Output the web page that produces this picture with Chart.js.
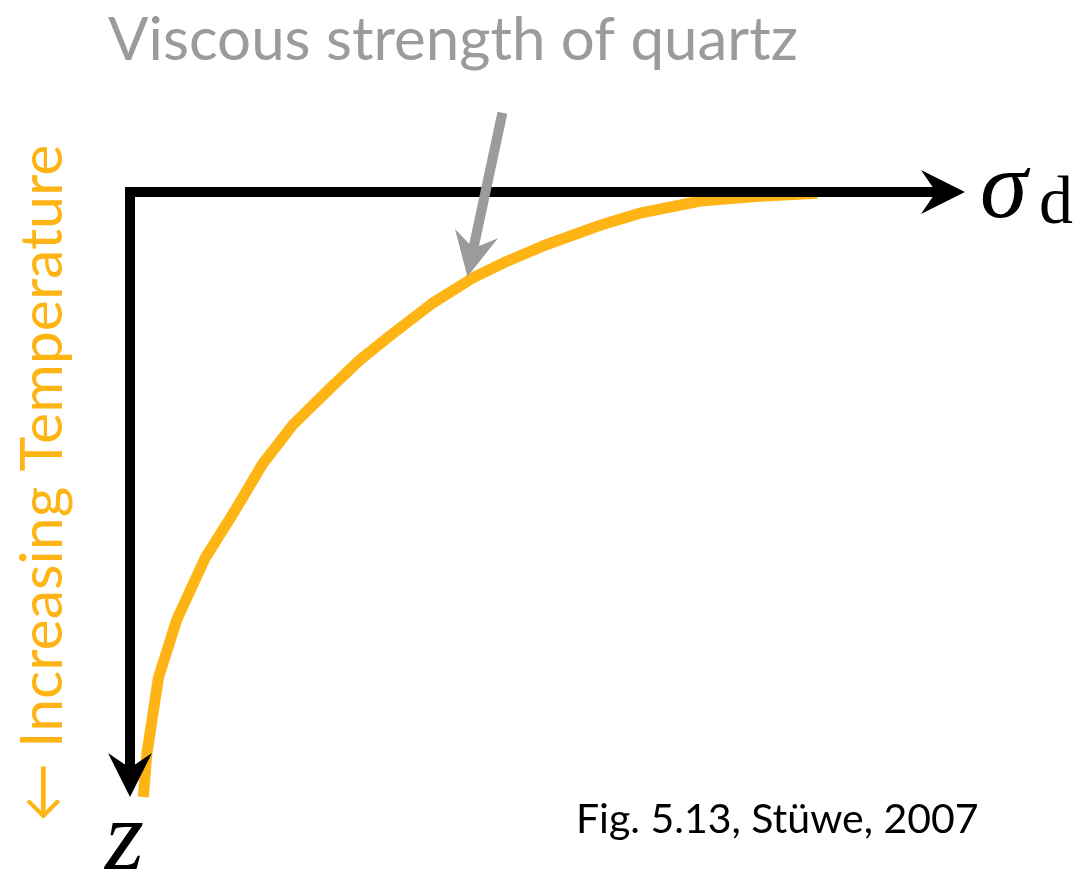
<!DOCTYPE html>
<html>
<head>
<meta charset="utf-8">
<script src="https://cdn.jsdelivr.net/npm/chart.js@4.4.0/dist/chart.umd.min.js"></script>
<style>
  body { margin: 0; background: #fff; }
  #wrap { width: 1080px; height: 874px; position: relative; }
</style>
</head>
<body>
<div id="wrap"><canvas id="chart1"></canvas></div>
<script>
// viscous strength curve: differential stress vs depth (both 0-100, depth grows downward)
var stress = [1.6, 2.0, 3.4, 5.6, 9.0, 12.6, 15.8, 19.5, 24.0, 27.5, 31.1, 36.3, 41.3, 44.9, 49.7, 56.3, 61.1, 68.3, 75.4, 82.3];
var depth  = [100, 93.1, 80.3, 70.7, 60.5, 52.6, 45.1, 38.5, 32.4, 27.8, 23.8, 18.3, 14.0, 11.6, 8.8, 5.5, 3.5, 1.5, 0.7, 0.2];

// the two axes as one polyline: sigma_d tip -> origin -> z tip
var axisStress = [100, 0, 0];
var axisDepth  = [0, 0, 100];

// grey pointer from the label to the curve
var pointerStress = [44.6, 40.4];
var pointerDepth  = [-13.1, 14.0];

var orange = 'rgb(253, 180, 20)';
var grey = 'rgb(155, 155, 155)';

function toPoints(xs, ys) {
  return xs.map(function(x, i){ return {x: x, y: ys[i]}; });
}

function arrowHead(ctx, tx, ty, dx, dy, color) {
  var len = 44, half = 22, inner = 29;
  var nx = -dy, ny = dx;
  ctx.fillStyle = color;
  ctx.beginPath();
  ctx.moveTo(tx, ty);
  ctx.lineTo(tx - len * dx + half * nx, ty - len * dy + half * ny);
  ctx.lineTo(tx - inner * dx, ty - inner * dy);
  ctx.lineTo(tx - len * dx - half * nx, ty - len * dy - half * ny);
  ctx.closePath();
  ctx.fill();
}

// draws the arrow datasets: shaft through the points, heads at the flagged ends
var arrowPlugin = {
  id: 'arrows',
  afterDatasetsDraw: function(chart) {
    var ctx = chart.ctx;
    chart.data.datasets.forEach(function(ds, i){
      if (!ds.arrow) return;
      var pts = chart.getDatasetMeta(i).data.map(function(p){ return {x: p.x, y: p.y}; });
      var n = pts.length;
      var ends = [];
      if (ds.headEnd) {
        var a = pts[n - 2], b = pts[n - 1];
        var l = Math.hypot(b.x - a.x, b.y - a.y);
        ends.push({t: b, dx: (b.x - a.x) / l, dy: (b.y - a.y) / l});
      }
      if (ds.headStart) {
        var a2 = pts[1], b2 = pts[0];
        var l2 = Math.hypot(b2.x - a2.x, b2.y - a2.y);
        ends.push({t: b2, dx: (b2.x - a2.x) / l2, dy: (b2.y - a2.y) / l2});
      }
      // pull shaft ends back into the heads so they do not poke out
      var shaft = pts.slice();
      if (ds.headEnd) shaft[n - 1] = {x: pts[n - 1].x - 26 * ends[0].dx, y: pts[n - 1].y - 26 * ends[0].dy};
      if (ds.headStart) {
        var e = ends[ends.length - 1];
        shaft[0] = {x: pts[0].x - 26 * e.dx, y: pts[0].y - 26 * e.dy};
      }
      ctx.save();
      ctx.strokeStyle = ds.arrowColor;
      ctx.lineWidth = ds.arrowWidth;
      ctx.lineJoin = 'miter';
      ctx.lineCap = 'butt';
      ctx.beginPath();
      shaft.forEach(function(p, k){ if (k === 0) ctx.moveTo(p.x, p.y); else ctx.lineTo(p.x, p.y); });
      ctx.stroke();
      ends.forEach(function(e){ arrowHead(ctx, e.t.x, e.t.y, e.dx, e.dy, ds.arrowColor); });
      ctx.restore();
    });
  }
};

// labels
var labelPlugin = {
  id: 'labels',
  afterDraw: function(chart) {
    var ctx = chart.ctx;
    ctx.save();
    ctx.textBaseline = 'alphabetic';
    ctx.textAlign = 'left';

    ctx.fillStyle = grey;
    ctx.font = '60px Lato';
    ctx.fillText('Viscous strength of quartz', 108, 60);

    ctx.fillStyle = '#000';
    ctx.font = '41px Lato';
    ctx.fillText('Fig. 5.13, Stüwe, 2007', 576, 833);

    ctx.font = 'italic 96px "Liberation Serif"';
    ctx.fillText('σ', 980, 217);
    ctx.font = '68px "Liberation Serif"';
    ctx.fillText('d', 1039, 223);
    ctx.font = 'italic 100px "Liberation Serif"';
    ctx.fillText('z', 105, 869);

    ctx.translate(62, 822);
    ctx.rotate(-Math.PI / 2);
    ctx.fillStyle = orange;
    ctx.font = '59px Lato';
    ctx.fillText('← Increasing Temperature', 0, 0);
    ctx.restore();
  }
};

var chart1 = document.getElementById('chart1').getContext('2d');
var chart1_plot = new Chart(chart1, {
  type: 'scatter',
  data: {
    datasets: [
      {
        label: 'Viscous strength of quartz',
        data: toPoints(stress, depth),
        showLine: true,
        borderColor: orange,
        borderWidth: 11,
        borderCapStyle: 'butt',
        tension: 0,
        pointRadius: 0,
        clip: false
      },
      {
        label: 'axes',
        data: toPoints(axisStress, axisDepth),
        showLine: false,
        pointRadius: 0,
        arrow: true, headStart: true, headEnd: true,
        arrowColor: '#000', arrowWidth: 10
      },
      {
        label: 'pointer',
        data: toPoints(pointerStress, pointerDepth),
        showLine: false,
        pointRadius: 0,
        arrow: true, headEnd: true,
        arrowColor: grey, arrowWidth: 10
      }
    ]
  },
  options: {
    responsive: true,
    maintainAspectRatio: false,
    animation: false,
    events: [],
    plugins: {
      legend: { display: false },
      tooltip: { enabled: false }
    },
    layout: {
      padding: { left: 130, right: 115, top: 192, bottom: 77 }
    },
    scales: {
      x: { type: 'linear', display: false, min: 0, max: 100 },
      y: { type: 'linear', display: false, min: 0, max: 100, reverse: true }
    }
  },
  plugins: [arrowPlugin, labelPlugin]
});
</script>
</body>
</html>
